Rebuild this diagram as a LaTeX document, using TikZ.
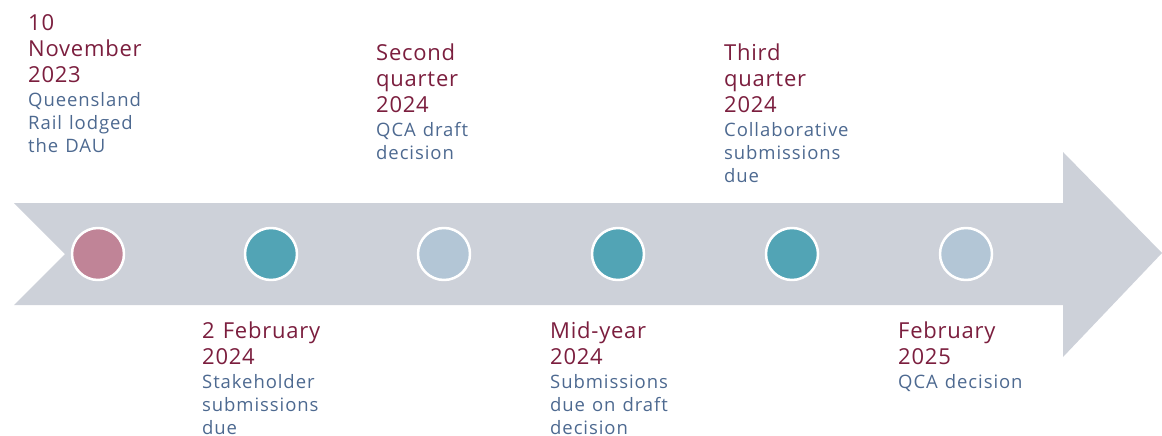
\documentclass[tikz,border=0pt]{standalone}
\usepackage{fontspec}
\setmainfont{Open Sans}
\newfontfamily\headfont{Open Sans}[LetterSpace=3.5]
\newfontfamily\notefont{Open Sans}[LetterSpace=5]
\definecolor{bandgray}{HTML}{CDD1D9}
\definecolor{datered}{HTML}{7B1E3E}
\definecolor{noteblue}{HTML}{4D6990}
\definecolor{pinkdot}{HTML}{C08497}
\definecolor{tealdot}{HTML}{52A4B5}
\definecolor{paledot}{HTML}{B3C6D6}
\newcommand{\evt}[2]{\leavevmode{\color{datered}\headfont\fontsize{22}{26}\selectfont\spaceskip=8pt #1\par}\vspace{1pt}%
  \leavevmode{\color{noteblue}\notefont\fontsize{18.5}{23}\selectfont\spaceskip=7pt #2\par}}
\tikzset{milestone/.style={circle, draw=white, line width=2.5pt, minimum size=52pt, inner sep=0pt},
	datetext/.style={anchor=north west, inner sep=0pt, text width=170pt, align=left}}
\begin{document}
\begin{tikzpicture}[x=1pt, y=-1pt, line join=round]
			\useasboundingbox (0,0) rectangle (1162,436);
			% timeline arrow
			\fill[bandgray] (14,203)--(1063,203)--(1063,152)--(1162,253)--(1063,357)--(1063,305)--(14,305)--(65,254)--cycle;
			\foreach \x/\c [count=\i] in {98/pinkdot, 271/tealdot, 444/paledot, 618/tealdot, 792/tealdot, 966/paledot}
			\node[milestone, fill=\c] (m\i) at (\x,254) {};
			% dates above
			\node[datetext] (d1) at (28,14) {\evt{10\\November\\2023}{Queensland\\Rail lodged\\the DAU}};
			\node[datetext] (d3) at (376,44) {\evt{Second\\quarter\\2024}{QCA draft\\decision}};
			\node[datetext] (d5) at (724,44) {\evt{Third\\quarter\\2024}{Collaborative\\submissions\\due}};
			% dates below
			\node[datetext] (d2) at (202,322) {\evt{2 February\\2024}{Stakeholder\\submissions\\due}};
			\node[datetext] (d4) at (550,322) {\evt{Mid-year\\2024}{Submissions\\due on draft\\decision}};
			\node[datetext] (d6) at (898,322) {\evt{February\\2025}{QCA decision}};
\end{tikzpicture}
\end{document}
